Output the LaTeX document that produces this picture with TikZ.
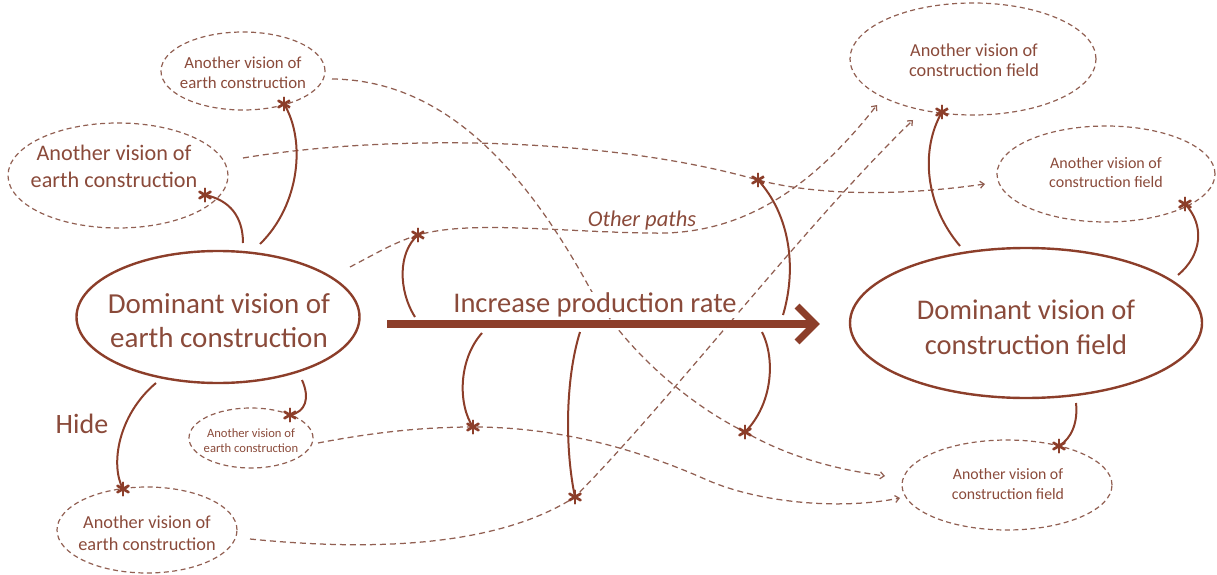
\documentclass[tikz,border=0pt]{standalone}
\usepackage{fontspec}
\setmainfont{Carlito}
\usetikzlibrary{shapes.geometric,arrows.meta,calc}
\pgfdeclarelayer{bg}
\pgfsetlayers{bg,main}
\definecolor{brn}{RGB}{140,62,42}
\definecolor{txt}{RGB}{138,74,58}
\definecolor{dsh}{RGB}{145,95,82}
\begin{document}
\begin{tikzpicture}[x=1pt,y=-1pt,
  domell/.style={ellipse, draw=brn, line width=2.4pt, inner sep=0pt},
  altell/.style={ellipse, draw=dsh, line width=1.2pt, dash pattern=on 5pt off 3.5pt, inner sep=0pt},
  lbl/.style={text=txt, align=center, inner sep=0pt},
  solidlink/.style={draw=brn, line width=2pt},
  dline/.style={draw=dsh, line width=1.25pt, dash pattern=on 6pt off 4pt},
  dtip/.style={dline, -{Straight Barb[length=4pt,width=7pt]}},
  ast/.style={circle, inner sep=0pt, minimum size=15pt,
    path picture={
      \foreach \ang in {90,30,150}
        \draw[brn, line width=2.7pt, line cap=round]
          ([shift={(\ang:6.5pt)}]path picture bounding box.center) --
          ([shift={(\ang+180:6.5pt)}]path picture bounding box.center);
    }}
]
\useasboundingbox (0,0) rectangle (1217,575);

% ellipses
\node[domell, minimum width=283pt, minimum height=132pt] (L) at (218,317) {};
\node[domell, minimum width=352pt, minimum height=150pt] (R) at (1026,323) {};
\node[altell, minimum width=164pt, minimum height=78pt] (A1) at (243,71) {};
\node[altell, minimum width=220pt, minimum height=105pt] (A2) at (118,175.5) {};
\node[altell, minimum width=124pt, minimum height=60pt] (A3) at (251,438) {};
\node[altell, minimum width=180pt, minimum height=86pt] (A4) at (147,530) {};
\node[altell, minimum width=246pt, minimum height=112pt] (B1) at (973,59) {};
\node[altell, minimum width=218pt, minimum height=96pt] (B2) at (1106,174) {};
\node[altell, minimum width=210pt, minimum height=90pt] (B3) at (1007,485) {};

% texts
\node[lbl, font=\fontsize{29}{34}\selectfont] (Lt) at (219,320.5) {Dominant vision of\\earth construction};
\node[lbl, font=\fontsize{28.5}{35}\selectfont] (Rt) at (1026,327) {Dominant vision of\\construction field};
\node[lbl, font=\fontsize{16.8}{20}\selectfont] (A1t) at (243,73) {Another vision of\\earth construction};
\node[lbl, font=\fontsize{22.2}{27}\selectfont] (A2t) at (114,166) {Another vision of\\earth construction};
\node[lbl, font=\fontsize{12.6}{15.5}\selectfont] (A3t) at (251,440.5) {Another vision of\\earth construction};
\node[lbl, font=\fontsize{18.3}{22}\selectfont] (A4t) at (147,533) {Another vision of\\earth construction};
\node[lbl, font=\fontsize{18.3}{20}\selectfont] (B1t) at (974,60) {Another vision of\\construction field};
\node[lbl, font=\fontsize{16}{19}\selectfont] (B2t) at (1106,172.5) {Another vision of\\construction field};
\node[lbl, font=\fontsize{15.8}{20}\selectfont] (B3t) at (1008,484) {Another vision of\\construction field};
\node[lbl, font=\fontsize{28}{34}\selectfont] (hide) at (82,424) {Hide};
\node[lbl, font=\fontsize{22.5}{27}\selectfont\itshape] (oth) at (642,221) {Other paths};
\node[lbl, font=\fontsize{28.5}{34}\selectfont, fill=white, inner sep=1pt] (inc) at (595,305) {Increase production rate};

% asterisks
\node[ast] (s1) at (205,195) {};
\node[ast] (s2) at (284,104) {};
\node[ast] (s3) at (123,489) {};
\node[ast] (s4) at (290,415) {};
\node[ast] (s5) at (418,235) {};
\node[ast] (s6) at (473,427) {};
\node[ast] (s7) at (575,497) {};
\node[ast] (s8) at (758,180) {};
\node[ast] (s9) at (745,432) {};
\node[ast] (s10) at (942,112) {};
\node[ast] (s11) at (1185,204) {};
\node[ast] (s12) at (1059,446) {};

% free ends
\coordinate (c1) at (243,243);
\coordinate (c2) at (260,244);
\coordinate (c3) at (156,383);
\coordinate (c4) at (302,380);
\coordinate (c5) at (415,317);
\coordinate (c6) at (482,333);
\coordinate (c7) at (580,332);
\coordinate (c8) at (783,315);
\coordinate (c9) at (762,332);
\coordinate (c10) at (960,246);
\coordinate (c11) at (1178,275);
\coordinate (c12) at (1076,403);
\coordinate (d1) at (332,79);
\coordinate (d2) at (243,158);
\coordinate (d3) at (350,267);
\coordinate (d4) at (318,443);
\coordinate (d5) at (250,539);
\coordinate (e1) at (885,476);
\coordinate (e2) at (985,184);
\coordinate (e3) at (877,105);
\coordinate (e4) at (900,498);
\coordinate (e5) at (913,120);
\coordinate (arS) at (387,324);
\coordinate (arE) at (815,324);

% dashed paths
\begin{pgfonlayer}{bg}
\draw[dtip] (d1) .. controls (450,80) and (530,180) .. (588,285)
  .. controls (624,350) and (690,405) .. (s9.center)
  .. controls (790,458) and (840,470) .. (e1);
\draw[dtip] (d2) .. controls (380,135) and (600,135) .. (s8.center)
  .. controls (820,196) and (900,196) .. (e2);
\draw[dtip] (d3) .. controls (375,254) and (395,242) .. (s5.center)
  .. controls (470,220) and (560,232) .. (650,233)
  .. controls (740,236) and (810,190) .. (e3);
\draw[dtip] (d4) .. controls (370,433) and (420,427) .. (s6.center)
  .. controls (560,427) and (640,450) .. (707,480)
  .. controls (760,503) and (840,510) .. (e4);
\draw[dtip] (d5) .. controls (380,552) and (500,545) .. (s7.center)
  .. controls (680,390) and (800,230) .. (e5);
\end{pgfonlayer}

% big arrow
\draw[brn, line width=8pt] (arS) -- (arE);
\draw[brn, line width=7pt, line join=miter, line cap=butt]
  ($(arE)+(-18,-18)$) -- (arE) -- ($(arE)+(-18,18)$);

% solid links
\draw[solidlink] (c1) .. controls (243,217) and (230,200) .. (s1.center);
\draw[solidlink] (c2) .. controls (300,205) and (306,140) .. (s2.center);
\draw[solidlink] (c3) .. controls (118,415) and (110,465) .. (s3.center);
\draw[solidlink] (c4) .. controls (310,398) and (306,412) .. (s4.center);
\draw[solidlink] (c5) .. controls (398,290) and (398,252) .. (s5.center);
\draw[solidlink] (c6) .. controls (458,360) and (458,405) .. (s6.center);
\draw[solidlink] (c7) .. controls (565,380) and (565,450) .. (s7.center);
\draw[solidlink] (c8) .. controls (797,268) and (790,215) .. (s8.center);
\draw[solidlink] (c9) .. controls (776,360) and (772,405) .. (s9.center);
\draw[solidlink] (c10) .. controls (925,205) and (920,150) .. (s10.center);
\draw[solidlink] (c11) .. controls (1202,255) and (1205,225) .. (s11.center);
\draw[solidlink] (c12) .. controls (1078,422) and (1072,438) .. (s12.center);
\end{tikzpicture}
\end{document}
